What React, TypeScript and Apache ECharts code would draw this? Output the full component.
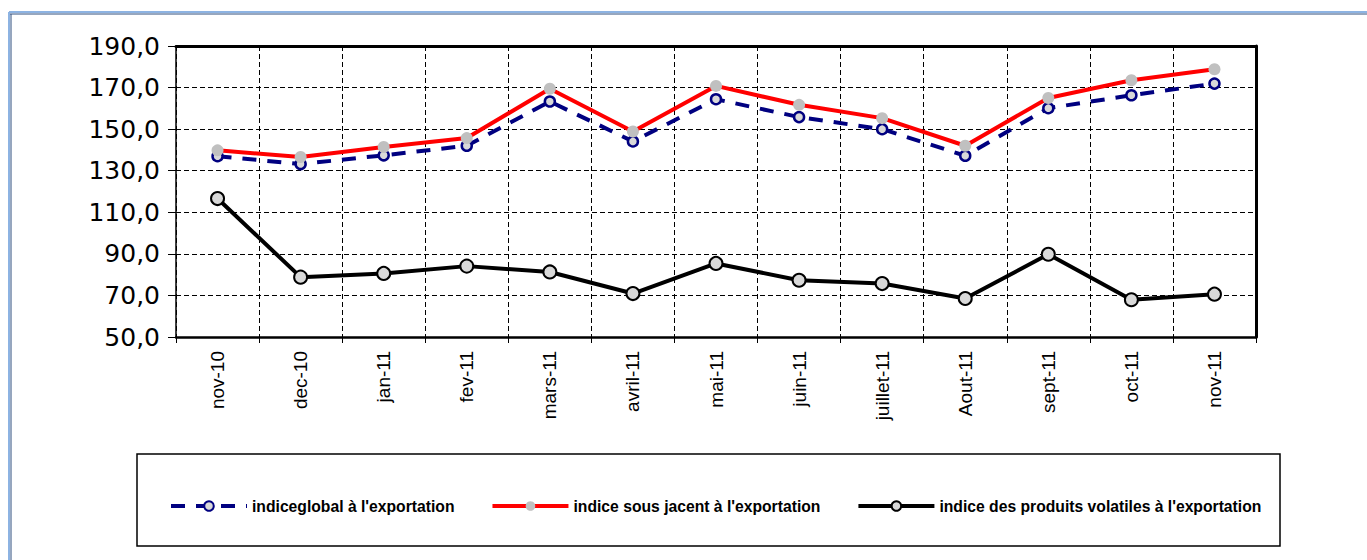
import React, { useEffect, useRef } from "react";
import * as echarts from "echarts";

const categories = ["nov-10", "dec-10", "jan-11", "fev-11", "mars-11", "avril-11", "mai-11", "juin-11", "juillet-11", "Aout-11", "sept-11", "oct-11", "nov-11"];
const indiceGlobal = [137.0, 133.2, 137.4, 142.0, 163.3, 144.1, 164.4, 155.8, 150.0, 137.2, 160.1, 166.3, 171.9];
const indiceSousJacent = [139.8, 136.6, 141.4, 145.7, 169.4, 148.9, 170.8, 161.7, 155.3, 142.0, 165.0, 173.5, 178.8];
const indiceVolatiles = [116.6, 78.8, 80.6, 84.1, 81.3, 70.9, 85.4, 77.3, 75.7, 68.5, 89.8, 67.9, 70.6];
const seriesNames = [
  "indiceglobal à l'exportation",
  "indice sous jacent à l'exportation",
  "indice des produits volatiles à l'exportation",
];
const yMin = 50;
const yMax = 190;
const yStep = 20;

export default function App() {
  const ref = useRef<HTMLDivElement>(null);
  useEffect(() => {
    if (!ref.current) return;
    const chart = echarts.init(ref.current, null, { renderer: "svg" });
    const dash = { type: [5, 3], color: "#000", width: 1 };
    chart.setOption({
      animation: false,
      backgroundColor: "#fff",
      textStyle: { fontFamily: "Liberation Sans, Arial, sans-serif" },
      grid: { left: 176, top: 46, right: 111, bottom: 223, containLabel: false },
      graphic: [
        { type: "line", shape: { x1: 9, y1: 12, x2: 1367, y2: 12 }, style: { stroke: "#8db3e2", lineWidth: 2 } },
        { type: "line", shape: { x1: 9, y1: 14, x2: 1367, y2: 14 }, style: { stroke: "#2f4f7f", lineWidth: 1 } },
        { type: "line", shape: { x1: 9, y1: 12, x2: 9, y2: 560 }, style: { stroke: "#8db3e2", lineWidth: 2 } },
        { type: "line", shape: { x1: 11, y1: 14, x2: 11, y2: 560 }, style: { stroke: "#2f4f7f", lineWidth: 1 } },
        { type: "rect", shape: { x: 137, y: 454, width: 1143, height: 92 }, style: { fill: "none", stroke: "#000", lineWidth: 1.5 } },
      ],
      legend: {
        left: 164,
        top: 493,
        itemWidth: 76,
        itemHeight: 12,
        itemGap: 36,
        lineStyle: { width: 4 },
        textStyle: { fontSize: 15.7, fontWeight: "bold", color: "#000", fontFamily: "Liberation Sans, Arial, sans-serif" },
        data: seriesNames,
      },
      xAxis: [
        {
          type: "category",
          data: categories,
          boundaryGap: true,
          axisLine: { show: true, lineStyle: { color: "#000", width: 2.5 } },
          axisTick: { show: true, length: 6, lineStyle: { color: "#000", width: 1 } },
          axisLabel: { rotate: 90, margin: 14, fontSize: 19, color: "#000", fontFamily: "Liberation Sans, Arial, sans-serif" },
          splitLine: { show: true, lineStyle: dash },
        },
        {
          type: "category",
          data: categories,
          position: "top",
          axisLine: { show: true, lineStyle: { color: "#000", width: 3 } },
          axisTick: { show: false },
          axisLabel: { show: false },
          splitLine: { show: false },
        },
      ],
      yAxis: [
        {
          type: "value",
          min: yMin,
          max: yMax,
          interval: yStep,
          axisLine: { show: true, lineStyle: { color: "#000", width: 1.5 } },
          axisTick: { show: true, length: 8, lineStyle: { color: "#000", width: 1 } },
          axisLabel: {
            margin: 16,
            fontSize: 25,
            color: "#000",
            fontFamily: "DejaVu Sans, Liberation Sans, Arial, sans-serif",
            formatter: (v: number) => v.toFixed(1).replace(".", ","),
          },
          splitLine: { show: true, lineStyle: dash },
        },
        {
          type: "value",
          min: yMin,
          max: yMax,
          interval: yStep,
          position: "right",
          axisLine: { show: true, lineStyle: { color: "#000", width: 3 } },
          axisTick: { show: false },
          axisLabel: { show: false },
          splitLine: { show: false },
        },
      ],
      series: [
        {
          name: seriesNames[0],
          type: "line",
          data: indiceGlobal,
          symbol: "circle",
          symbolSize: 10,
          lineStyle: { color: "#000080", width: 4, type: [14, 11] },
          itemStyle: { color: "#d9d9d9", borderColor: "#000080", borderWidth: 2.5 },
          z: 2,
        },
        {
          name: seriesNames[1],
          type: "line",
          data: indiceSousJacent,
          symbol: "circle",
          symbolSize: 12,
          lineStyle: { color: "#ff0000", width: 4 },
          itemStyle: { color: "#c0c0c0", borderWidth: 0 },
          z: 3,
        },
        {
          name: seriesNames[2],
          type: "line",
          data: indiceVolatiles,
          symbol: "circle",
          symbolSize: 13,
          lineStyle: { color: "#000", width: 4 },
          itemStyle: { color: "#d9d9d9", borderColor: "#000", borderWidth: 2 },
          z: 4,
        },
      ],
    });
    return () => chart.dispose();
  }, []);
  return (
    <div
      ref={ref}
      style={{ position: "fixed", left: 0, top: 0, width: 1367, height: 560, background: "#fff" }}
    />
  );
}
